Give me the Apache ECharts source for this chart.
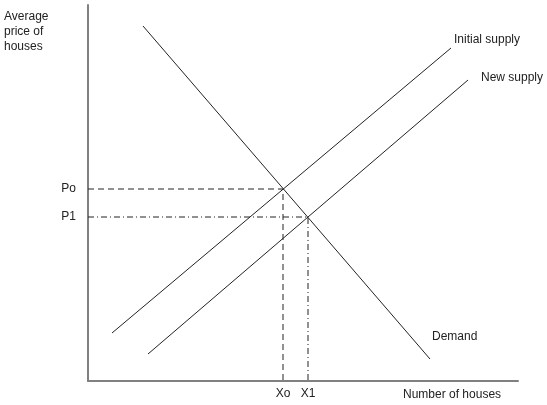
<!DOCTYPE html>
<html>
<head>
<meta charset="utf-8">
<script src="https://cdn.jsdelivr.net/npm/echarts@6/dist/echarts.min.js"></script>
<style>
  html, body { margin: 0; padding: 0; background: #fff; }
  #chart { width: 547px; height: 405px; }
</style>
</head>
<body>
<div id="chart"></div>
<script>
// line end points, in chart units (x: number of houses, y: price)
const demand = [[55, 355], [342, 22]]
const initialSupply = [[24, 48], [363, 333]]
const newSupply = [[60, 27], [380, 301]]
// equilibrium points
const eq0 = [195, 192]
const eq1 = [220, 164]
const priceLabels = ['Po', 'P1']
const qtyLabels = ['Xo', 'X1']

const font = 'Liberation Sans, Arial, sans-serif'
const txt = '#222'

let myChart = echarts.init(document.getElementById('chart'))

myChart.setOption({
  animation: false,
  grid: { left: 88, top: 5, right: 29, bottom: 24 },
  xAxis: {
    type: 'value', min: 0, max: 430,
    splitLine: { show: false },
    axisTick: { show: false },
    axisLine: { lineStyle: { color: '#808080', width: 2 } },
    axisLabel: {
      customValues: [eq0[0], eq1[0]],
      formatter: (v) => (v === eq0[0] ? qtyLabels[0] : qtyLabels[1]),
      color: txt, fontFamily: font, fontSize: 12, margin: 7
    }
  },
  yAxis: {
    type: 'value', min: 0, max: 376,
    splitLine: { show: false },
    axisTick: { show: false },
    axisLine: { show: true, lineStyle: { color: '#808080', width: 2 } },
    axisLabel: {
      customValues: [eq1[1], eq0[1]],
      formatter: (v) => (v === eq0[1] ? priceLabels[0] : priceLabels[1]),
      color: txt, fontFamily: font, fontSize: 12, margin: 12
    }
  },
  graphic: [
    { type: 'text', left: 4, top: 9, style: { text: 'Average\nprice of\nhouses', fill: txt, font: '12px ' + font, lineHeight: 15 } },
    { type: 'text', left: 403, top: 389, style: { text: 'Number of houses', fill: txt, font: '12px ' + font } }
  ],
  series: [
    {
      name: 'Demand', type: 'line', data: demand, symbol: 'none',
      lineStyle: { color: '#222', width: 1 },
      endLabel: { show: true, formatter: 'Demand', offset: [-6, -22], color: txt, fontFamily: font, fontSize: 12 }
    },
    {
      name: 'Initial supply', type: 'line', data: initialSupply, symbol: 'none',
      lineStyle: { color: '#222', width: 1 },
      endLabel: { show: true, formatter: 'Initial supply', offset: [-5, -8], color: txt, fontFamily: font, fontSize: 12 }
    },
    {
      name: 'New supply', type: 'line', data: newSupply, symbol: 'none',
      lineStyle: { color: '#222', width: 1 },
      endLabel: { show: true, formatter: 'New supply', offset: [5, -2], color: txt, fontFamily: font, fontSize: 12 }
    },
    {
      type: 'line', data: [[0, eq0[1]], eq0, [eq0[0], 0]], symbol: 'none',
      lineStyle: { color: '#222', width: 1, type: [6, 4] }
    },
    {
      type: 'line', data: [[0, eq1[1]], eq1, [eq1[0], 0]], symbol: 'none',
      lineStyle: { color: '#222', width: 1, type: [6, 3, 1, 3] }
    }
  ]
})
</script>
</body>
</html>
